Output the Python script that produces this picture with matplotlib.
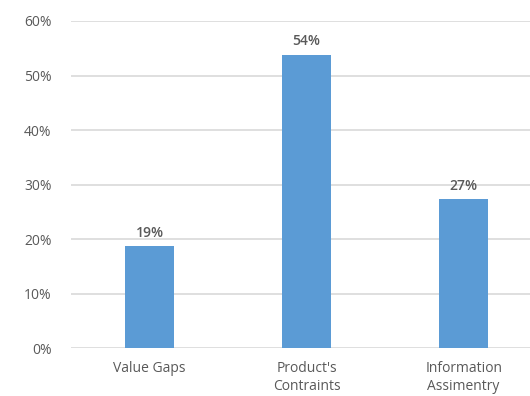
"""Bar chart: share of barriers by category."""
import matplotlib
matplotlib.use('Agg')
import matplotlib.pyplot as plt
from matplotlib.ticker import PercentFormatter

categories = ["Value Gaps", "Product's\nContraints", "Information\nAssimentry"]
shares = [0.187, 0.538, 0.273]

plt.rcParams['font.family'] = ['Open Sans', 'DejaVu Sans']
grey = '#595959'

fig = plt.figure(figsize=(5.3, 3.96), dpi=100)
ax = fig.add_axes([0.134, 0.121, 0.889, 0.826])

x = range(len(categories))
bars = ax.bar(x, shares, width=0.31, color='#5B9BD5', zorder=3)
for b, v in zip(bars, shares):
    ax.text(b.get_x() + b.get_width() / 2, v + 0.012, f'{v:.0%}',
            ha='center', va='bottom', fontsize=10, color=grey,
            fontweight='semibold')

ax.set_xlim(-0.5, 2.5)
ax.set_ylim(0, 0.6)
ax.set_yticks([i / 10 for i in range(7)])
ax.yaxis.set_major_formatter(PercentFormatter(1.0, decimals=0))
ax.set_xticks(list(x))
ax.set_xticklabels(categories, linespacing=1.3)
ax.tick_params(axis='both', length=0, colors=grey, labelsize=10)
ax.tick_params(axis='x', pad=9)
ax.tick_params(axis='y', pad=14)
ax.grid(axis='y', color='#d9d9d9', linewidth=1.2, zorder=0)
for s in ax.spines.values():
    s.set_visible(False)

fig.savefig('out.png', dpi=100)
